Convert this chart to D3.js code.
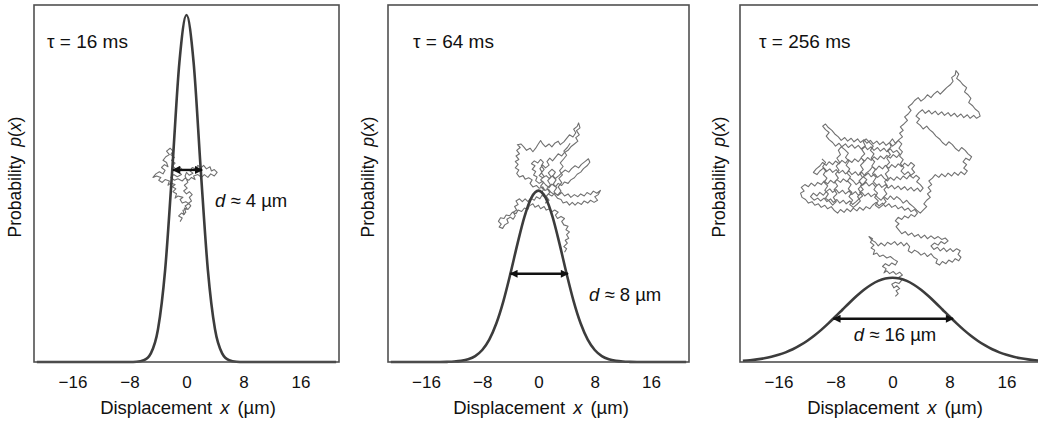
<!DOCTYPE html>
<html><head><meta charset="utf-8">
<script src="https://cdn.jsdelivr.net/npm/d3@7"></script>
<style>
html,body{margin:0;padding:0;background:#fff;}
svg{display:block;font-family:"Liberation Sans",Arial,Helvetica,sans-serif;}
</style></head>
<body><svg id="chart" width="1038" height="427"></svg>
<script>
// ---------------- DATA ----------------
const panelTaus = ["16", "64", "256"];          // τ in ms
const dLabels   = ["4", "8", "16"];              // d ≈ … µm
const xTicks    = [-16, -8, 0, 8, 16];
const sampleX   = [-21,-20,-19,-18,-17,-16,-15,-14,-13,-12,-11,-10,-9,-8,-7,-6,-5,-4,-3,-2,-1,0,
                   1,2,3,4,5,6,7,8,9,10,11,12,13,14,15,16,17,18,19,20,21];
// probability p(x) read at each sampleX (relative units, 1 = plot top)
const prob16 = [0,0,0,0,0,0,0,0,0,0,0,0,0,0,0.0007,0.0048,0.0242,0.0915,0.2573,0.5384,0.8386,0.972,
                0.8386,0.5384,0.2573,0.0915,0.0242,0.0048,0.0007,0,0,0,0,0,0,0,0,0,0,0,0,0,0];
const prob64 = [0,0,0,0,0,0,0,0,0.0004,0.0012,0.0032,0.0076,0.0166,0.0336,0.0627,0.1077,0.170,0.247,0.3303,0.4066,0.4605,0.48,
                0.4605,0.4066,0.3303,0.247,0.170,0.1077,0.0627,0.0336,0.0166,0.0076,0.0032,0.0012,0.0004,0,0,0,0,0,0,0,0];
const prob256 = [0.0034,0.0050,0.0073,0.0104,0.0145,0.0200,0.0270,0.0357,0.0463,0.0589,0.0735,0.0900,0.1081,0.1273,0.1471,0.1668,0.1855,0.2023,0.2164,0.2271,0.2337,0.236,
                 0.2337,0.2271,0.2164,0.2023,0.1855,0.1668,0.1471,0.1273,0.1081,0.0900,0.0735,0.0589,0.0463,0.0357,0.0270,0.0200,0.0145,0.0104,0.0073,0.0050,0.0034];
// arrow: ends in µm and height (relative units)
const arrowX0 = [-1.9, -4.0, -8.3];
const arrowX1 = [2.2, 4.2, 8.5];
const arrowY  = [0.538, 0.247, 0.121];
// random-walk trajectories, [x µm, height µm above baseline]
const walk16 = [[-0.9,19.7],[-0.6,20.2],[-1.1,20.5],[-0.7,20.9],[-0.3,20.7],[-0.5,21.3],[0.1,21.5],[-0.2,21.9],[0.3,22.2],[-0.1,22.5],[-0.6,22.3],[-0.9,22.8],[-0.5,23.1],[-1.2,23.3],[-1.6,23.0],[-1.4,23.6],[-1.9,23.9],[-1.5,24.3],[-2.0,24.6],[-1.6,24.9],[-2.2,25.1],[-2.6,24.8],[-2.4,25.4],[-3.0,25.6],[-3.4,25.2],[-3.9,25.5],[-3.6,25.9],[-4.2,26.1],[-4.7,25.9],[-4.3,26.4],[-3.8,26.7],[-3.3,26.4],[-3.0,26.9],[-3.5,27.3],[-3.1,27.7],[-2.6,27.4],[-2.8,28.0],[-3.3,28.3],[-2.9,28.8],[-2.4,29.1],[-2.8,29.6],[-2.3,30.0],[-1.9,29.6],[-2.2,29.1],[-1.7,28.7],[-2.1,28.3],[-1.6,27.9],[-2.0,27.5],[-1.5,27.1],[-1.0,27.4],[-0.6,27.0],[-1.1,26.7],[-0.7,26.3],[-1.3,26.0],[-1.8,26.3],[-2.2,25.9],[-1.7,25.5],[-1.2,25.7],[-0.6,25.4],[-0.2,25.8],[0.3,25.5],[0.7,25.9],[1.2,25.6],[1.0,26.1],[1.6,26.3],[2.1,25.9],[2.5,26.3],[3.0,25.9],[3.4,26.4],[3.9,26.1],[4.3,26.6],[3.9,27.0],[3.5,26.8],[3.3,27.4],[2.8,27.1],[2.4,27.6],[2.0,27.2],[1.6,27.6],[1.3,27.1],[0.8,27.3],[0.5,26.8],[0.9,26.5],[0.4,26.2],[0.0,26.6],[-0.2,26.1],[0.2,25.2],[-0.3,24.8],[0.1,24.4],[-0.4,24.0],[0.0,23.6],[0.4,23.9],[0.8,23.5],[0.4,23.1],[0.7,22.6],[0.3,22.3],[0.6,21.9],[0.2,21.4],[-0.3,21.6],[-0.1,21.0],[-0.5,20.6]];
const walk64 = [[3.7,15.6],[4.0,16.1],[3.6,16.4],[4.1,16.9],[3.8,17.3],[4.3,17.6],[4.0,18.1],[4.4,18.5],[3.9,18.8],[4.2,19.3],[3.6,19.5],[3.3,20.0],[3.7,20.4],[3.2,20.7],[2.7,20.4],[2.4,20.9],[2.8,21.3],[2.3,21.6],[1.8,21.3],[1.6,21.8],[1.1,21.6],[0.8,22.1],[0.3,21.8],[0.0,22.3],[-0.5,22.0],[-0.8,22.5],[-1.3,22.2],[-1.5,21.7],[-2.0,21.9],[-2.4,21.4],[-2.9,21.6],[-3.2,21.1],[-3.7,21.3],[-4.1,20.8],[-4.6,20.9],[-4.9,20.4],[-5.4,20.5],[-5.7,20.0],[-5.3,19.6],[-5.6,19.2],[-5.1,19.0],[-4.8,19.5],[-4.3,19.8],[-4.5,20.3],[-4.0,20.6],[-3.6,20.3],[-3.3,20.8],[-3.6,21.3],[-3.1,21.6],[-3.4,22.1],[-2.9,22.4],[-3.2,22.9],[-2.7,23.2],[-2.3,22.8],[-1.9,23.2],[-1.5,22.8],[-1.1,23.3],[-0.6,23.0],[-0.3,23.5],[0.2,23.2],[0.5,23.7],[1.0,23.4],[1.4,23.9],[1.9,23.6],[2.3,24.0],[2.8,23.7],[3.3,24.1],[3.7,23.6],[4.2,23.9],[4.6,23.4],[5.1,23.8],[5.6,23.5],[6.0,23.9],[6.5,23.6],[6.9,24.1],[7.4,23.8],[7.8,24.3],[8.3,24.0],[8.8,24.4],[8.5,23.8],[8.0,23.5],[8.4,23.0],[7.9,22.7],[7.4,23.0],[7.0,22.6],[6.5,22.9],[6.1,22.4],[5.6,22.7],[5.2,22.3],[4.8,22.7],[4.4,22.3],[4.0,22.8],[3.5,22.6],[3.2,23.1],[2.7,23.3],[2.3,23.8],[1.8,24.1],[1.4,24.6],[0.9,24.4],[0.6,24.9],[0.1,24.7],[-0.3,25.1],[-0.8,24.9],[-1.2,25.4],[-0.9,25.9],[-1.4,26.2],[-1.9,26.0],[-2.2,26.5],[-2.7,26.3],[-3.1,26.8],[-2.8,27.3],[-3.3,27.6],[-2.9,28.1],[-3.3,28.5],[-2.8,28.8],[-3.2,29.3],[-2.7,29.6],[-3.1,30.1],[-2.6,30.5],[-3.0,30.9],[-2.5,31.0],[-2.1,30.6],[-1.7,30.1],[-1.2,30.4],[-0.8,29.9],[-0.4,30.4],[-0.1,30.9],[0.3,31.5],[0.6,31.0],[1.0,30.6],[1.5,31.0],[1.9,30.6],[2.3,31.1],[2.8,31.4],[3.1,30.9],[3.6,31.3],[4.0,31.8],[4.4,32.3],[4.9,32.0],[5.3,32.6],[5.0,33.1],[5.5,33.5],[5.7,34.0],[5.9,33.3],[5.4,32.9],[5.8,32.3],[5.3,31.9],[5.6,31.4],[5.1,31.0],[4.6,30.6],[4.2,30.1],[3.7,29.8],[3.3,29.3],[2.8,29.6],[2.4,29.1],[2.0,28.6],[1.6,29.0],[1.2,28.5],[1.5,28.0],[1.0,27.6],[0.6,28.0],[0.2,27.5],[0.5,27.0],[0.1,26.5],[0.6,26.2],[1.1,26.5],[1.5,26.1],[2.0,26.5],[2.4,26.1],[2.9,26.5],[3.3,26.9],[3.8,27.3],[4.3,27.0],[4.7,27.5],[5.2,27.9],[5.7,27.6],[6.1,28.1],[6.6,28.5],[7.1,28.9],[7.3,28.4],[6.9,27.9],[6.4,27.5],[6.0,27.0],[5.5,26.7],[5.1,26.2],[4.6,25.9],[4.2,25.4],[3.7,25.6],[3.3,25.1],[2.8,25.4],[2.4,24.9],[1.9,25.3],[1.5,24.8],[1.0,25.2],[0.6,25.7],[0.1,25.4],[-0.4,25.8],[-0.2,26.3],[-0.7,26.6],[-0.4,27.1],[-0.9,27.4],[-0.5,27.9],[-1.0,28.2],[-0.6,28.6],[-0.1,28.3],[0.3,28.8],[0.7,28.4],[0.4,27.9],[0.8,27.4],[0.4,26.9],[0.8,26.4],[0.3,25.9],[0.7,25.5],[0.3,25.0],[0.7,24.5],[0.4,24.0],[0.8,23.5],[1.3,23.1],[1.0,22.6],
  [1.5,23.0],[1.1,23.6],[1.6,24.1],[1.2,24.7],[1.7,25.2],[1.3,25.8],[1.8,26.3],[1.4,26.9],[1.9,27.4],[2.4,27.0],[2.0,26.4],[2.5,25.9],[2.1,25.3],[2.6,24.8],[2.2,24.2],[2.7,23.7],[3.2,24.3],[2.8,24.9],[3.3,25.5],[2.9,26.1],[3.4,26.6],[3.0,27.2],[3.5,27.8],[3.1,28.3],[3.6,28.9],[4.0,29.4],[3.6,30.0],[4.1,30.5],[4.5,31.1]];
const walk256 = [[0.4,9.2],[0.8,9.6],[0.5,10.0],[1.0,10.3],[0.6,10.7],[0.2,10.4],[-0.1,10.9],[0.4,11.2],[0.9,11.0],[1.3,11.5],[0.9,11.9],[1.4,12.2],[1.0,12.6],[0.5,12.3],[0.1,12.7],[-0.4,12.4],[-0.8,12.8],[-1.2,12.5],[-0.9,13.1],[-1.4,13.4],[-1.0,13.8],[-0.5,13.5],[-0.1,13.9],[0.4,13.6],[0.7,14.1],[0.2,14.4],[-0.3,14.8],[-0.8,14.6],[-1.3,15.0],[-1.8,14.8],[-2.2,15.3],[-2.7,15.1],[-2.5,15.7],[-3.0,16.0],[-2.6,16.4],[-3.1,16.8],[-2.8,17.3],[-3.3,17.6],[-2.9,17.1],[-2.4,16.8],[-2.0,16.3],[-1.6,16.7],[-1.1,16.3],[-0.7,16.8],[-0.2,16.5],[0.3,16.9],[0.7,16.4],[1.2,16.8],[1.6,16.3],[2.0,16.7],[2.4,16.2],[2.2,15.6],[2.7,15.3],[3.1,15.7],[3.6,15.4],
  [4.0,15.0],[4.5,15.3],[4.9,14.8],[5.4,15.2],[5.8,14.7],[6.3,14.4],[6.1,13.9],[6.6,13.6],[7.0,14.1],[7.5,13.8],[7.9,14.3],[8.4,14.0],[8.8,14.5],[9.3,14.2],[9.6,14.7],[9.2,15.1],[9.5,15.6],[9.0,15.9],[8.5,15.5],[8.1,15.9],[7.6,15.5],[7.2,16.0],[6.7,15.6],[6.3,16.1],[5.8,15.8],[5.4,16.3],[5.9,16.7],[6.4,16.4],[6.8,16.9],[7.3,16.6],[7.8,17.0],[7.4,17.4],[6.9,17.2],[6.4,17.6],[5.9,17.3],[5.4,17.7],[4.9,17.3],[4.5,17.8],[4.0,17.4],[3.6,17.9],[3.1,17.6],[2.7,18.1],[2.2,17.8],[1.8,18.3],[1.3,18.0],[0.9,18.5],[0.5,19.0],[0.9,19.4],[0.4,19.8],[0.8,20.3],[1.3,20.0],[1.7,20.5],[2.2,20.2],[2.6,20.7],[3.1,20.4],[3.5,20.9],[3.1,21.4],[2.6,21.1],[2.2,21.6],[1.7,21.3],[1.3,21.8],[0.8,21.5],[0.4,22.0],[-0.1,21.7],[-0.5,22.2],[-1.0,21.8],[-1.4,22.3],[-1.9,21.9],[-2.3,22.4],
  [-2.8,22.0],[-3.2,21.5],[-3.7,21.8],[-4.1,21.3],[-4.6,21.7],[-5.0,21.2],[-5.5,21.6],[-5.9,21.1],[-6.4,21.5],[-6.8,21.0],[-7.3,21.4],[-7.7,20.9],[-8.2,21.3],[-8.6,21.8],[-9.1,21.5],[-9.5,22.0],[-10.0,21.7],[-10.4,22.2],[-10.9,22.0],[-11.3,22.5],[-11.8,22.3],[-12.2,22.8],[-12.7,23.1],[-12.9,23.7],[-12.4,24.0],[-12.8,24.5],[-12.3,24.9],[-11.8,24.6],[-11.4,25.1],[-10.9,24.7],[-10.5,25.2],[-10.0,24.9],[-9.6,25.4],[-9.1,25.0],[-8.7,25.5],[-8.2,25.1],[-7.8,25.6],[-7.3,25.2],[-6.9,25.7],[-6.4,25.3],[-6.0,25.8],[-5.5,25.4],[-5.1,24.9],[-4.6,25.3],[-4.2,24.8],[-3.7,25.2],[-3.3,24.7],[-2.8,25.1],[-2.4,24.6],[-1.9,25.0],[-1.5,24.5],[-1.0,24.9],[-0.6,24.4],[-0.1,24.8],[0.3,24.3],[0.8,24.7],[1.2,24.2],[1.7,24.6],[2.1,24.1],[2.6,24.5],[3.0,24.0],[3.5,24.4],[3.9,23.9],[4.3,24.4],[3.9,24.9],[3.4,25.3],[3.8,25.8],[3.3,26.2],[2.9,25.8],[2.4,26.2],[2.0,25.7],[1.5,26.1],[1.1,25.6],[0.6,26.0],[0.2,25.5],[-0.3,25.9],[-0.7,25.4],[-1.2,25.8],[-1.6,26.3],[-2.1,25.9],[-2.5,26.4],[-3.0,26.0],[-3.4,26.5],[-3.9,26.1],[-4.3,26.6],[-4.8,26.2],[-5.2,26.7],[-5.7,26.3],[-6.1,26.8],[-6.6,26.4],[-7.0,26.9],[-7.5,26.5],[-7.9,27.0],[-8.4,26.6],[-8.8,27.1],[-9.3,26.7],[-9.7,27.2],[-10.2,26.8],[-10.6,26.3],[-11.1,26.6],[-10.7,27.1],[-10.2,27.5],[-9.8,28.0],[-9.3,27.6],[-8.9,28.1],[-8.4,27.7],[-8.0,28.2],[-7.5,27.8],[-7.1,28.3],[-6.6,27.9],[-6.2,28.4],[-5.7,28.0],[-5.3,28.5],[-4.8,28.1],[-4.4,28.6],[-3.9,28.2],[-3.5,28.7],[-3.0,28.3],[-2.6,28.8],[-2.1,28.4],[-1.7,28.9],[-1.2,28.5],[-0.8,29.0],[-0.3,28.6],[0.1,29.1],[0.6,28.7],[1.0,29.2],[0.6,29.7],[0.1,29.4],[-0.3,29.9],[-0.8,29.5],[-1.2,30.0],[-1.7,29.6],[-2.1,30.1],[-2.6,29.7],[-3.0,30.2],[-3.5,29.8],[-3.9,30.3],[-4.4,29.9],[-4.8,30.4],[-5.3,30.0],[-5.7,30.5],[-6.2,30.1],[-6.6,30.6],[-7.1,30.2],[-7.5,30.7],[-8.0,30.3],[-8.4,30.8],[-8.9,31.2],[-9.3,31.7],[-8.9,32.2],[-9.4,32.6],[-9.8,33.1],[-9.4,33.4],[-9.0,32.9],[-8.5,32.5],[-8.1,32.0],[-7.6,31.6],[-7.2,31.1],[-6.7,31.5],[-6.3,31.0],[-5.8,31.4],[-5.4,30.9],[-4.9,31.3],[-4.5,30.8],[-4.0,31.2],[-3.6,30.7],[-3.1,31.1],[-2.7,30.6],[-2.2,31.0],[-1.8,30.5],[-1.3,30.9],[-0.9,30.4],[-0.4,30.8],[0.0,30.3],[0.5,30.7],[0.9,31.2],[1.4,31.6],[1.0,32.1],[1.5,32.5],[1.1,33.0],[1.6,33.4],[2.1,33.9],[1.7,34.4],[2.2,34.8],[2.6,35.3],[2.2,35.8],[2.7,36.2],[3.1,36.7],
  [3.6,37.1],[4.0,36.6],[4.5,37.0],[4.9,37.5],[5.4,37.1],[5.8,37.6],[6.3,38.0],[6.7,37.6],[7.2,38.1],[7.6,38.5],[8.1,38.9],[8.5,39.4],[8.3,39.9],[8.8,40.3],[8.9,40.9],[9.3,40.4],[9.0,39.8],[9.5,39.4],[9.9,38.9],[10.4,38.5],[10.1,37.9],[10.6,37.5],[11.0,37.0],[10.7,36.4],[11.2,36.0],[11.6,35.5],[12.1,35.1],[12.3,34.5],[11.8,34.2],[11.4,34.6],[10.9,34.2],[10.5,34.7],[10.0,34.3],[9.6,34.8],[9.1,34.4],[8.7,34.9],[8.2,34.5],[7.8,35.0],[7.3,34.6],[6.9,35.1],[6.4,34.7],[6.0,35.2],[5.5,34.8],[5.1,35.3],[4.6,34.9],[4.2,35.4],[3.7,35.0],[3.3,34.5],[3.8,34.1],[3.4,33.6],[3.9,33.2],[4.3,32.7],[4.8,33.1],[5.2,32.6],[5.7,32.2],[6.1,31.7],[6.6,31.3],[7.0,30.8],[7.5,30.4],[7.9,30.9],[8.4,30.5],[8.8,30.0],[9.3,29.6],[9.7,30.1],[10.2,29.7],[10.6,29.2],[11.1,28.8],[10.8,28.3],[10.3,28.6],[9.9,28.1],[10.4,27.7],[10.0,27.2],[10.5,26.8],[10.1,26.3],[9.6,26.7],[9.2,26.2],[8.7,26.6],[8.3,26.1],[7.8,26.5],[7.4,26.0],[6.9,26.4],[6.5,25.9],[6.0,26.3],[5.6,25.8],[5.1,25.4],[5.5,24.9],[5.0,24.5],[5.4,24.0],[4.9,23.6],[5.3,23.1],[4.8,22.7],[4.4,22.2],[4.8,21.8],[4.3,21.3],[3.9,20.9],
  [3.4,21.3],[2.9,21.8],[2.4,22.2],[2.0,22.7],[1.5,22.3],[1.1,22.8],[0.6,23.2],[0.2,22.8],[-0.3,23.3],[-0.7,22.8],[-1.2,23.2],[-1.6,22.7],[-2.1,23.1],[-2.5,23.6],[-3.0,23.2],[-3.4,23.7],[-3.9,23.3],[-4.3,23.8],[-4.8,23.4],[-5.2,23.9],[-5.7,23.5],[-6.1,24.0],[-6.6,23.6],[-7.0,24.1],[-7.5,23.7],[-7.9,24.2],[-8.4,23.8],[-8.8,24.3],[-9.3,23.9],[-9.7,23.4],[-10.2,23.8],[-10.6,23.3],[-11.1,23.7],[-11.5,23.2],[-11.0,22.7],[-10.5,23.0],[-10.1,22.6],[-9.6,23.0],[-9.2,22.5],[-8.7,22.9],[-8.3,22.4],[-7.8,22.8],[-7.4,22.3],[-6.9,22.7],[-6.5,22.2],[-6.0,22.6],[-5.6,22.1],[-5.1,22.5],[-4.7,22.9],[-4.2,23.3],[-4.6,23.8],[-4.1,24.2],[-4.5,24.7],[-4.0,25.1],[-3.6,25.6],[-4.1,26.0],[-3.7,26.5],[-3.2,26.9],[-2.8,27.4],[-2.3,27.0],[-1.9,27.5],[-1.4,27.1],[-1.0,27.6],[-0.5,27.2],[-0.1,27.7],[0.4,27.3],[0.8,27.8],[1.3,27.4],[1.7,27.9],[2.2,27.5],[2.6,28.0],[3.1,27.6],[2.7,27.1],[3.1,26.6],[2.6,26.2],[2.2,26.7],[1.7,26.3],
  [1.2,26.8],[1.6,27.3],[1.1,27.8],[1.5,28.4],[1.0,28.9],[1.4,29.5],[0.9,30.0],[1.3,30.6],[0.8,31.1],[0.4,30.7],[0.0,31.3],[-0.4,30.8],[-0.2,30.2],[-0.7,29.7],[-0.3,29.1],[-0.8,28.6],[-0.4,28.0],[-0.9,27.5],[-0.5,26.9],[-1.0,26.4],[-0.6,25.8],[-1.1,25.3],[-0.7,24.7],[-1.2,24.2],[-0.8,23.6],[-1.3,23.1],[-0.9,22.5],[-1.4,22.0],[-1.9,21.6],[-2.4,22.0],[-2.0,22.6],[-2.5,23.1],[-2.1,23.7],[-2.6,24.2],[-2.2,24.8],[-2.7,25.3],[-2.3,25.9],[-2.8,26.4],[-2.4,27.0],[-2.9,27.5],[-2.5,28.1],[-3.0,28.6],[-2.6,29.2],[-3.1,29.7],[-2.7,30.3],[-3.2,30.8],[-3.7,31.3],[-4.1,30.9],[-3.8,30.3],[-4.3,29.8],[-3.9,29.2],[-4.4,28.7],[-4.0,28.1],[-4.5,27.6],[-4.1,27.0],[-4.6,26.5],[-4.2,25.9],[-4.7,25.4],[-4.3,24.8],[-4.8,24.3],[-4.4,23.7],[-4.9,23.2],[-4.5,22.6],[-5.0,22.1],[-5.5,21.7],[-6.0,22.1],[-5.6,22.7],[-6.1,23.2],[-5.7,23.8],[-6.2,24.3],[-5.8,24.9],[-6.3,25.4],[-5.9,26.0],[-6.4,26.5],[-6.0,27.1],[-6.5,27.6],[-6.1,28.2],[-6.6,28.7],[-6.2,29.3],[-6.7,29.8],[-7.2,30.2],[-7.6,29.7],[-7.3,29.1],[-7.8,28.6],[-7.4,28.0],[-7.9,27.5],[-7.5,26.9],[-8.0,26.4],[-7.6,25.8],[-8.1,25.3],[-7.7,24.7],[-8.2,24.2],[-7.8,23.6],[-8.3,23.1],[-7.9,22.5],[-8.4,22.0],[-8.9,22.6],[-9.4,23.0],[-9.0,23.6],[-9.5,24.1],[-9.1,24.7],[-9.6,25.2],[-9.2,25.8],[-9.7,26.3],[-9.3,26.9],[-9.8,27.4],[-9.4,28.0],[-9.9,28.5]];

const probs = [prob16, prob64, prob256];
const walks = [walk16, walk64, walk256];

// ---------------- LAYOUT ----------------
const svg = d3.select("#chart");
const plotTop = 5, plotBottom = 362;
const panels = [
  {left: 34,  right: 339,  tauX: 47,  dX: 215, dY: 207, dAnchor: "start",  yLabX: 21,  xLabX: 188},
  {left: 388, right: 689,  tauX: 413, dX: 589, dY: 301, dAnchor: "start",  yLabX: 374, xLabX: 541},
  {left: 740, right: 1045, tauX: 759, dX: 895, dY: 341, dAnchor: "middle", yLabX: 725, xLabX: 895}
];
const ink = "#3c3c3c";

const defs = svg.append("defs");
defs.append("marker").attr("id", "ah").attr("viewBox", "0 0 10 10")
  .attr("refX", 9).attr("refY", 5).attr("markerWidth", 10).attr("markerHeight", 8)
  .attr("markerUnits", "userSpaceOnUse").attr("orient", "auto-start-reverse")
  .append("path").attr("d", "M0,0 L10,5 L0,10 z").attr("fill", "#111");

panels.forEach((p, i) => {
  const x = d3.scaleLinear().domain([-21.4, 21.4]).range([p.left, p.right]);
  const y = d3.scaleLinear().domain([0, 1]).range([plotBottom, plotTop]);
  const pxPerUm = x(1) - x(0);
  const yw = d3.scaleLinear().domain([0, (plotBottom - plotTop) / pxPerUm]).range([plotBottom, plotTop]);
  const g = svg.append("g");

  // trajectory
  g.append("path").datum(walks[i])
    .attr("d", d3.line().x(d => x(d[0])).y(d => yw(d[1])))
    .attr("fill", "none").attr("stroke", "#707070").attr("stroke-width", 1.1)
    .attr("stroke-linejoin", "round");

  // gaussian curve
  const pts = sampleX.map((v, k) => [v, probs[i][k]]);
  g.append("path").datum(pts)
    .attr("d", d3.line().x(d => x(d[0])).y(d => y(d[1])).curve(d3.curveMonotoneX))
    .attr("fill", "none").attr("stroke", ink).attr("stroke-width", 2.6);

  // frame
  g.append("rect").attr("x", p.left).attr("y", plotTop)
    .attr("width", p.right - p.left).attr("height", plotBottom - plotTop)
    .attr("fill", "none").attr("stroke", "#505050").attr("stroke-width", 1.6);

  // arrow
  g.append("line")
    .attr("x1", x(arrowX0[i])).attr("x2", x(arrowX1[i]))
    .attr("y1", y(arrowY[i])).attr("y2", y(arrowY[i]))
    .attr("stroke", "#111").attr("stroke-width", 2.4)
    .attr("marker-start", "url(#ah)").attr("marker-end", "url(#ah)");

  // x axis
  const ax = g.append("g").attr("transform", `translate(0,${plotBottom})`)
    .call(d3.axisBottom(x).tickValues(xTicks).tickSize(0).tickPadding(14));
  ax.select(".domain").remove();
  ax.selectAll("text").attr("font-size", 17).attr("fill", "#111")
    .attr("font-family", "'Liberation Sans',Arial,sans-serif");

  // x label
  const xl = g.append("text").attr("x", p.xLabX).attr("y", 414)
    .attr("text-anchor", "middle").attr("font-size", 18.5).attr("fill", "#111");
  xl.append("tspan").text("Displacement");
  xl.append("tspan").attr("dx", 8).attr("font-style", "italic").text("x");
  xl.append("tspan").attr("dx", 8).text("(µm)");

  // y label
  const yl = g.append("text")
    .attr("transform", `translate(${p.yLabX},177) rotate(-90)`)
    .attr("text-anchor", "middle").attr("font-size", 17.5).attr("fill", "#111");
  yl.append("tspan").text("Probability");
  yl.append("tspan").attr("dx", 9).attr("font-style", "italic").text("p");
  yl.append("tspan").text("(");
  yl.append("tspan").attr("font-style", "italic").text("x");
  yl.append("tspan").text(")");

  // tau
  g.append("text").attr("x", p.tauX).attr("y", 48).attr("font-size", 19).attr("fill", "#111")
    .text(`τ = ${panelTaus[i]} ms`);

  // d label
  const dl = g.append("text").attr("x", p.dX).attr("y", p.dY)
    .attr("text-anchor", p.dAnchor).attr("font-size", 18.5).attr("fill", "#111");
  dl.append("tspan").attr("font-style", "italic").text("d");
  dl.append("tspan").text(` ≈ ${dLabels[i]} µm`);
});
</script></body></html>
